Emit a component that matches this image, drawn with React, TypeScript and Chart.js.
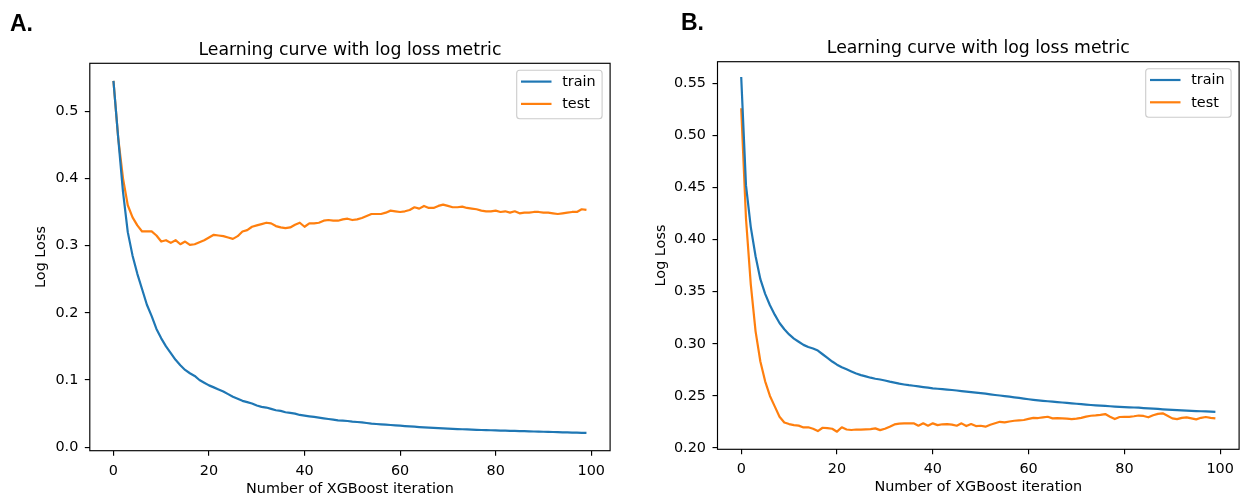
import React, { useEffect, useRef } from "react";
import { Chart, registerables } from "chart.js";

Chart.register(...registerables);

// ---------- data ----------
const iterations: number[] = Array.from({ length: 100 }, (_, i) => i);
const xTickValues = [0, 20, 40, 60, 80, 100];
const yTicksA = [0.0, 0.1, 0.2, 0.3, 0.4, 0.5];
const yTicksB = [0.2, 0.25, 0.3, 0.35, 0.4, 0.45, 0.5, 0.55];
const seriesLabels = ["train", "test"];

const trainA = [
  0.545, 0.46, 0.38, 0.32, 0.285, 0.258, 0.235, 0.212, 0.195, 0.176,
  0.162, 0.15, 0.14, 0.13, 0.122, 0.115, 0.11, 0.106, 0.1, 0.096,
  0.092, 0.089, 0.086, 0.083, 0.079, 0.075, 0.072, 0.069, 0.067, 0.065,
  0.062, 0.06, 0.059, 0.057, 0.055, 0.054, 0.052, 0.051, 0.05, 0.048,
  0.047, 0.046, 0.045, 0.044, 0.043, 0.042, 0.041, 0.04, 0.0395, 0.039,
  0.038, 0.0375, 0.037, 0.036, 0.035, 0.0345, 0.034, 0.0335, 0.033, 0.0325,
  0.032, 0.0315, 0.031, 0.0305, 0.03, 0.0296, 0.0292, 0.0288, 0.0284, 0.028,
  0.0276, 0.0273, 0.027, 0.0267, 0.0264, 0.0261, 0.0258, 0.0256, 0.0254, 0.0252,
  0.025, 0.0248, 0.0246, 0.0244, 0.0242, 0.024, 0.0238, 0.0236, 0.0234, 0.0232,
  0.023, 0.0228, 0.0226, 0.0224, 0.0222, 0.022, 0.0218, 0.0216, 0.0214, 0.0212,
];

const testA = [
  0.545, 0.46, 0.4, 0.36, 0.342, 0.33, 0.321, 0.321, 0.321, 0.315,
  0.306, 0.308, 0.304, 0.308, 0.302, 0.306, 0.301, 0.302, 0.305, 0.308,
  0.312, 0.316, 0.315, 0.314, 0.312, 0.31, 0.314, 0.321, 0.323, 0.328,
  0.33, 0.332, 0.334, 0.333, 0.329, 0.327, 0.326, 0.327, 0.331, 0.334,
  0.328, 0.333, 0.333, 0.334, 0.337, 0.338, 0.337, 0.337, 0.339, 0.34,
  0.338, 0.339, 0.341, 0.344, 0.347, 0.347, 0.347, 0.349, 0.352, 0.351,
  0.35, 0.351, 0.353, 0.357, 0.355, 0.359, 0.356, 0.356, 0.359, 0.361,
  0.359, 0.357, 0.357, 0.358, 0.356, 0.355, 0.354, 0.352, 0.351, 0.351,
  0.352, 0.35, 0.351, 0.349, 0.351, 0.348, 0.349, 0.349, 0.35, 0.35,
  0.349, 0.349, 0.348, 0.347, 0.348, 0.349, 0.35, 0.35, 0.354, 0.353,
];

const trainB = [
  0.556, 0.452, 0.412, 0.384, 0.362, 0.348, 0.337, 0.328, 0.32, 0.314,
  0.309, 0.305, 0.302, 0.299, 0.297, 0.2955, 0.2935, 0.29, 0.2865, 0.283,
  0.28, 0.2775, 0.2755, 0.2735, 0.2715, 0.27, 0.2688, 0.2675, 0.2665, 0.2658,
  0.2648, 0.2637, 0.2628, 0.2618, 0.261, 0.2603, 0.2598, 0.2591, 0.2585, 0.2579,
  0.2573, 0.2569, 0.2565, 0.2561, 0.2557, 0.2552, 0.2546, 0.2541, 0.2536, 0.2531,
  0.2527, 0.2522, 0.2515, 0.2509, 0.2504, 0.2498, 0.2493, 0.2487, 0.2481, 0.2474,
  0.2468, 0.2463, 0.2458, 0.2453, 0.2449, 0.2445, 0.2441, 0.2437, 0.2433, 0.2429,
  0.2425, 0.2421, 0.2417, 0.2413, 0.241, 0.2407, 0.2404, 0.2401, 0.2398, 0.2395,
  0.2393, 0.2391, 0.2389, 0.2387, 0.2384, 0.2381, 0.2378, 0.2375, 0.2372, 0.2369,
  0.2366, 0.2364, 0.2362, 0.2359, 0.2357, 0.2355, 0.2353, 0.2351, 0.2349, 0.2347,
];

const testB = [
  0.526, 0.42, 0.357, 0.312, 0.283, 0.264, 0.25, 0.24, 0.23, 0.2245,
  0.223, 0.222, 0.2215, 0.2198, 0.2199, 0.2185, 0.2163, 0.2195, 0.2192, 0.2185,
  0.2157, 0.2199, 0.2178, 0.2173, 0.2178, 0.2176, 0.2179, 0.2182, 0.2189, 0.2172,
  0.2185, 0.2205, 0.2227, 0.2235, 0.2237, 0.2237, 0.2238, 0.2214, 0.2237, 0.2214,
  0.2237, 0.222, 0.2228, 0.223, 0.2225, 0.2214, 0.2237, 0.2211, 0.223, 0.2211,
  0.2214, 0.2205, 0.2224, 0.2238, 0.2252, 0.2246, 0.2255, 0.2262, 0.2265, 0.2269,
  0.228, 0.229, 0.2288, 0.2294, 0.23, 0.2285, 0.2287, 0.2285, 0.2283, 0.2278,
  0.2282, 0.229, 0.2302, 0.231, 0.2313, 0.2318, 0.2326, 0.23, 0.2278, 0.2298,
  0.2299, 0.23, 0.2305, 0.2312, 0.2308, 0.2295, 0.2315, 0.2328, 0.2333, 0.231,
  0.2285, 0.2278, 0.229, 0.2295, 0.2285, 0.2275, 0.229, 0.2298, 0.229, 0.2285,
];

// ---------- styling ----------
const FONT = '"DejaVu Sans", "Noto Sans", sans-serif';
const BLUE = "#1f77b4";
const ORANGE = "#ff7f0e";
const TITLE_TEXT = "Learning curve with log loss metric";
const X_TITLE = "Number of XGBoost iteration";
const Y_TITLE = "Log Loss";

const decorPlugin = {
  id: "mplDecor",
  afterDraw(chart: any, _args: any, opts: any) {
    const { ctx, chartArea: a } = chart;
    ctx.save();
    // frame
    ctx.strokeStyle = "#000";
    ctx.lineWidth = 1.15;
    ctx.strokeRect(a.left, a.top, a.right - a.left, a.bottom - a.top);
    // title
    ctx.fillStyle = "#000";
    ctx.font = `17.3px ${FONT}`;
    ctx.textAlign = "center";
    ctx.textBaseline = "alphabetic";
    ctx.fillText(opts.title, (a.left + a.right) / 2, opts.titleY);
    // legend
    const w = 85.4;
    const h = 48.5;
    const bx = a.right - 8 - w;
    const by = a.top + 7;
    ctx.beginPath();
    ctx.roundRect(bx, by, w, h, 3);
    ctx.fillStyle = "rgba(255,255,255,0.8)";
    ctx.fill();
    ctx.strokeStyle = "#cccccc";
    ctx.lineWidth = 1.1;
    ctx.stroke();
    chart.data.datasets.forEach((ds: any, k: number) => {
      const y = by + 11.3 + k * 22.3;
      ctx.beginPath();
      ctx.moveTo(bx + 4.3, y);
      ctx.lineTo(bx + 34.8, y);
      ctx.strokeStyle = ds.borderColor;
      ctx.lineWidth = 2.2;
      ctx.lineCap = "butt";
      ctx.stroke();
      ctx.fillStyle = "#000";
      ctx.font = `14.4px ${FONT}`;
      ctx.textAlign = "left";
      ctx.textBaseline = "middle";
      ctx.fillText(ds.label, bx + 45.5, y + 0.5);
    });
    ctx.restore();
  },
};

type Cfg = {
  left: number;
  width: number;
  height: number;
  padding: { left: number; top: number; right: number; bottom: number };
  yWidth: number;
  xHeight: number;
  yMin: number;
  yMax: number;
  yTicks: number[];
  yDigits: number;
  titleY: number;
  train: number[];
  test: number[];
};

function LossChart({ cfg }: { cfg: Cfg }) {
  const ref = useRef<HTMLCanvasElement>(null);
  useEffect(() => {
    const tickFont = { family: FONT, size: 14.4 };
    const gridCfg = {
      display: true,
      drawOnChartArea: false,
      drawTicks: true,
      tickLength: 5,
      color: "#000",
      lineWidth: 1.15,
    };
    const chart = new Chart(ref.current as HTMLCanvasElement, {
      type: "line",
      data: {
        datasets: [
          {
            label: seriesLabels[0],
            data: iterations.map((x, i) => ({ x, y: cfg.train[i] })),
            borderColor: BLUE,
            backgroundColor: BLUE,
          },
          {
            label: seriesLabels[1],
            data: iterations.map((x, i) => ({ x, y: cfg.test[i] })),
            borderColor: ORANGE,
            backgroundColor: ORANGE,
          },
        ],
      },
      plugins: [decorPlugin],
      options: {
        animation: false,
        responsive: false,
        devicePixelRatio: 1,
        layout: { padding: cfg.padding },
        elements: {
          point: { radius: 0, hoverRadius: 0 },
          line: { borderWidth: 2.2, tension: 0, borderJoinStyle: "round", borderCapStyle: "butt" },
        },
        plugins: {
          legend: { display: false },
          title: { display: false },
          tooltip: { enabled: false },
          mplDecor: { title: TITLE_TEXT, titleY: cfg.titleY },
        } as any,
        scales: {
          x: {
            type: "linear",
            min: -4.95,
            max: 103.95,
            afterBuildTicks: (s: any) => {
              s.ticks = xTickValues.map((v) => ({ value: v }));
            },
            afterFit: (s: any) => {
              s.height = cfg.xHeight;
            },
            grid: gridCfg,
            border: { display: false },
            ticks: {
              padding: 6.5,
              color: "#000",
              font: tickFont,
              maxRotation: 0,
              autoSkip: false,
              callback: (v: any) => String(v),
            },
            title: {
              display: true,
              text: X_TITLE,
              color: "#000",
              font: tickFont,
              padding: 0,
            },
          },
          y: {
            type: "linear",
            min: cfg.yMin,
            max: cfg.yMax,
            afterBuildTicks: (s: any) => {
              s.ticks = cfg.yTicks.map((v) => ({ value: v }));
            },
            afterFit: (s: any) => {
              s.width = cfg.yWidth;
            },
            grid: gridCfg,
            border: { display: false },
            ticks: {
              padding: 6.5,
              color: "#000",
              font: tickFont,
              autoSkip: false,
              callback: (v: any) => Number(v).toFixed(cfg.yDigits),
            },
            title: {
              display: true,
              text: Y_TITLE,
              color: "#000",
              font: tickFont,
              padding: 0,
            },
          },
        },
      } as any,
    });
    return () => chart.destroy();
  }, []);
  return (
    <canvas
      ref={ref}
      width={cfg.width}
      height={cfg.height}
      style={{ position: "absolute", left: cfg.left, top: 0, width: cfg.width, height: cfg.height }}
    />
  );
}

const cfgA: Cfg = {
  left: 0,
  width: 640,
  height: 498,
  padding: { left: 33, top: 63.3, right: 29.9, bottom: 0 },
  yWidth: 56.8,
  xHeight: 47.3,
  yMin: -0.0052,
  yMax: 0.5712,
  yTicks: yTicksA,
  yDigits: 1,
  titleY: 54.7,
  train: trainA,
  test: testA,
};

const cfgB: Cfg = {
  left: 640,
  width: 605,
  height: 496,
  padding: { left: 12.2, top: 61.7, right: 5.9, bottom: 0 },
  yWidth: 65.3,
  xHeight: 46.7,
  yMin: 0.1988,
  yMax: 0.5707,
  yTicks: yTicksB,
  yDigits: 2,
  titleY: 53.2,
  train: trainB,
  test: testB,
};

const panelLabel: React.CSSProperties = {
  position: "absolute",
  fontFamily: '"Liberation Sans", Arial, sans-serif',
  fontWeight: "bold",
  fontSize: 23,
  lineHeight: "23px",
  color: "#000",
  margin: 0,
};

export default function App() {
  return (
    <div
      style={{
        position: "fixed",
        left: 0,
        top: 0,
        width: 1245,
        height: 495,
        overflow: "hidden",
        background: "#fff",
      }}
    >
      <LossChart cfg={cfgA} />
      <LossChart cfg={cfgB} />
      <div style={{ ...panelLabel, left: 10, top: 12.2 }}>A.</div>
      <div style={{ ...panelLabel, left: 681, top: 11.2 }}>B.</div>
    </div>
  );
}
